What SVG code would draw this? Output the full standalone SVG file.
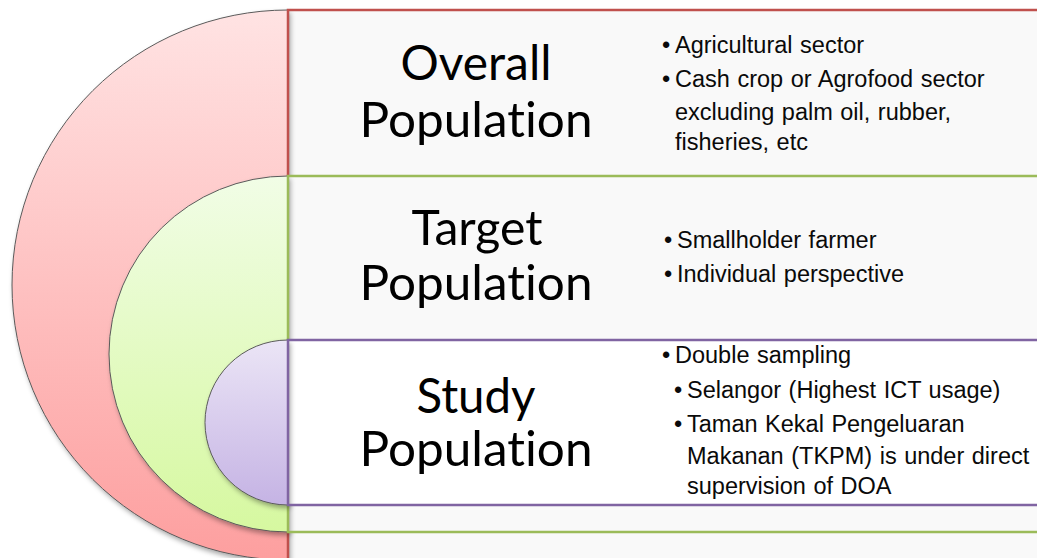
<svg xmlns="http://www.w3.org/2000/svg" width="1037" height="558" viewBox="0 0 1037 558">
  <defs>
    <linearGradient id="gradRed" x1="0" y1="0" x2="0" y2="1">
      <stop offset="0" stop-color="#ffe3e3"/>
      <stop offset="1" stop-color="#fd9f9f"/>
    </linearGradient>
    <linearGradient id="gradGreen" x1="0" y1="0" x2="0" y2="1">
      <stop offset="0" stop-color="#f1fde6"/>
      <stop offset="1" stop-color="#d6f8a0"/>
    </linearGradient>
    <linearGradient id="gradPurple" x1="0" y1="0" x2="0" y2="1">
      <stop offset="0" stop-color="#ebe5f6"/>
      <stop offset="1" stop-color="#c5b3e4"/>
    </linearGradient>
    <filter id="shadow" x="-10%" y="-10%" width="125%" height="125%">
      <feDropShadow dx="2" dy="3" stdDeviation="2.5" flood-color="#000" flood-opacity="0.35"/>
    </filter>
    <style>
      .arc { stroke: #5a5a5a; stroke-width: 1; }
      .band { stroke-width: 2.5; fill: none; }
      .title { font-family: Lato, "Liberation Sans", sans-serif; font-size: 48px; fill: #000; text-anchor: middle; font-variant-ligatures: none; font-feature-settings: "liga" 0, "clig" 0; }
      .bullet { font-family: "Liberation Sans", Arial, sans-serif; font-size: 23.5px; word-spacing: 1px; fill: #0a0a0a; }
    </style>
  </defs>

  <rect width="1037" height="558" fill="#ffffff"/>

  <!-- outer layer: overall population -->
  <g id="overall">
    <rect x="288" y="10" width="760" height="560" fill="#f9f9f9"/>
    <path d="M288,10 A276,275 0 0,0 288,560 Z" fill="url(#gradRed)" class="arc" filter="url(#shadow)"/>
    <path d="M1040,10 H288 V570" stroke="#c0504d" class="band"/>
    <text class="title" x="476" y="80" textLength="151" lengthAdjust="spacingAndGlyphs">Overall</text>
    <text class="title" x="476" y="137" textLength="233" lengthAdjust="spacingAndGlyphs">Population</text>
    <text class="bullet" y="53"><tspan x="662">•</tspan><tspan x="675">Agricultural sector</tspan></text>
    <text class="bullet" y="87"><tspan x="662">•</tspan><tspan x="675">Cash crop or Agrofood sector</tspan></text>
    <text class="bullet" x="675" y="120">excluding palm oil, rubber,</text>
    <text class="bullet" x="675" y="150">fisheries, etc</text>
  </g>

  <!-- middle layer: target population -->
  <g id="target">
    <rect x="288" y="176" width="760" height="356" fill="#f9f9f9"/>
    <path d="M288,176 A179,178 0 0,0 288,532 Z" fill="url(#gradGreen)" class="arc" filter="url(#shadow)"/>
    <path d="M1040,176 H288 V532 H1040" stroke="#9bbb59" class="band"/>
    <text class="title" x="477" y="245" textLength="131" lengthAdjust="spacingAndGlyphs">Target</text>
    <text class="title" x="476" y="300" textLength="233" lengthAdjust="spacingAndGlyphs">Population</text>
    <text class="bullet" y="248"><tspan x="664">•</tspan><tspan x="677">Smallholder farmer</tspan></text>
    <text class="bullet" y="282"><tspan x="664">•</tspan><tspan x="677">Individual perspective</tspan></text>
  </g>

  <!-- inner layer: study population -->
  <g id="study">
    <rect x="288" y="340" width="760" height="165" fill="#ffffff"/>
    <path d="M288,340 A83,82.5 0 0,0 288,505 Z" fill="url(#gradPurple)" class="arc" filter="url(#shadow)"/>
    <path d="M1040,340 H288 V505 H1040" stroke="#8064a2" class="band"/>
    <text class="title" x="476" y="413" textLength="119" lengthAdjust="spacingAndGlyphs">Study</text>
    <text class="title" x="476" y="466" textLength="233" lengthAdjust="spacingAndGlyphs">Population</text>
    <text class="bullet" y="363"><tspan x="662">•</tspan><tspan x="675">Double sampling</tspan></text>
    <text class="bullet" y="398"><tspan x="674">•</tspan><tspan x="687">Selangor (Highest ICT usage)</tspan></text>
    <text class="bullet" y="432"><tspan x="674">•</tspan><tspan x="687">Taman Kekal Pengeluaran</tspan></text>
    <text class="bullet" x="687" y="464">Makanan (TKPM) is under direct</text>
    <text class="bullet" x="687" y="494">supervision of DOA</text>
  </g>
</svg>
